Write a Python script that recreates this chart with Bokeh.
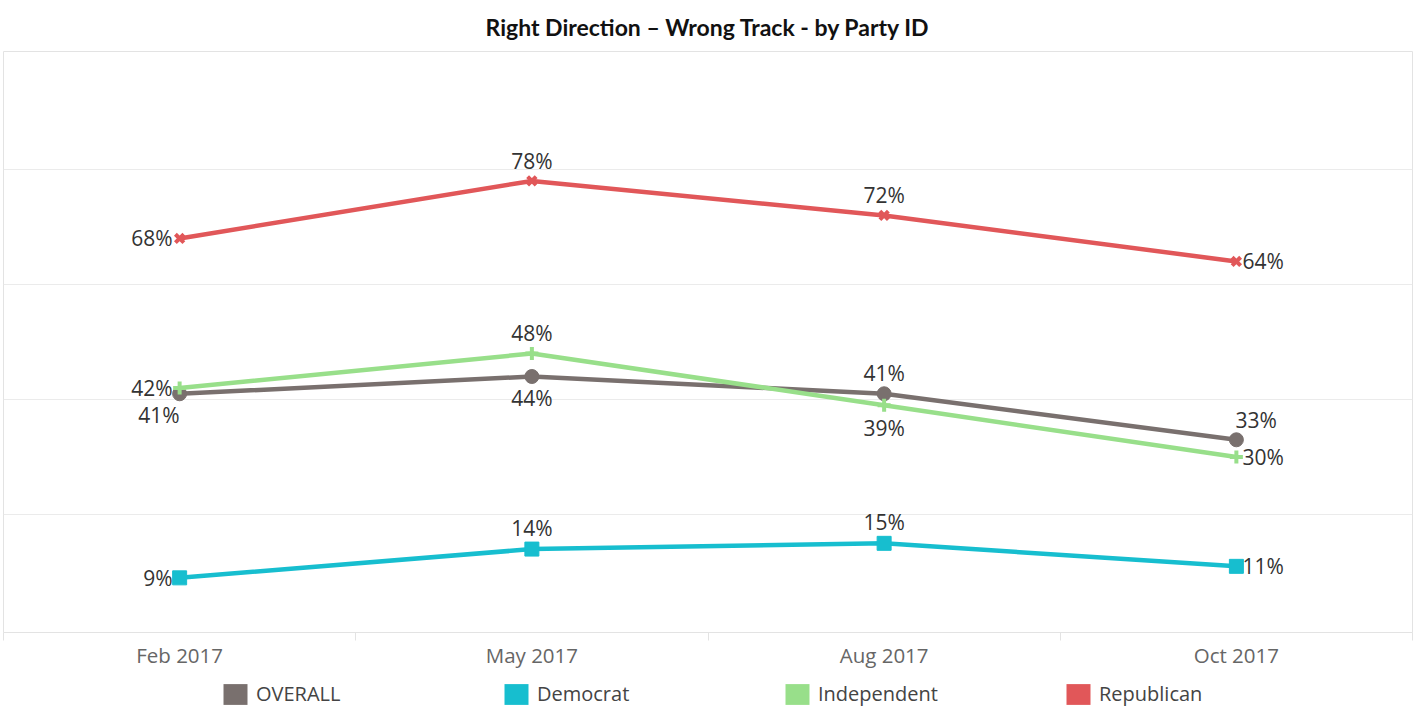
from bokeh.plotting import figure
from bokeh.layouts import column
from bokeh.models import (Range1d, FixedTicker, Legend, LegendItem, ColumnDataSource)
from bokeh.embed import file_html
from bokeh.resources import INLINE
from bokeh.core.properties import value

# ---------------- data ----------------
categories = ["Feb 2017", "May 2017", "Aug 2017", "Oct 2017"]
series_names = ["OVERALL", "Democrat", "Independent", "Republican"]
overall = [41, 44, 41, 33]
democrat = [9, 14, 15, 11]
independent = [42, 48, 39, 30]
republican = [68, 78, 72, 64]
grid_ticks = [20, 40, 60, 80]

# ---------------- styles ----------------
colors = {"OVERALL": "#79706e", "Democrat": "#17becf",
          "Independent": "#98df8a", "Republican": "#e15759"}
markers = {"OVERALL": "circle", "Democrat": "square",
           "Independent": "cross", "Republican": "x"}
marker_size = {"OVERALL": 14, "Democrat": 14, "Independent": 13, "Republican": 12}
marker_lw = {"OVERALL": 1, "Democrat": 1, "Independent": 4, "Republican": 4}
# label placement per point: (align, dx, dy) in screen pixels
label_place = {
    "OVERALL": [("right", 0, 21), ("center", 0, 21), ("center", 0, -21), ("left", -1, -20)],
    "Democrat": [("right", -7, 0), ("center", 0, -21), ("center", 0, -21), ("left", 6, 0)],
    "Independent": [("right", -7, 0), ("center", 0, -21), ("center", 0, 23), ("left", 6, 0)],
    "Republican": [("right", -7, 0), ("center", 0, -20), ("center", 0, -20), ("left", 6, 0)],
}
values = {"OVERALL": overall, "Democrat": democrat,
          "Independent": independent, "Republican": republican}

FONT = "Open Sans"
W = 1415

# each category occupies one unit band; points sit at the band centres
n = len(categories)
xpos = [i + 0.5 for i in range(n)]

p = figure(x_range=Range1d(0, n), y_range=Range1d(-0.5, 100.5),
           width=W, height=681,
           output_backend="svg", toolbar_location=None,
           y_axis_location=None,
           min_border_left=3, min_border_right=3, min_border_top=50,
           min_border_bottom=49)
p.background_fill_color = "white"
p.border_fill_color = "white"
p.outline_line_color = "#e3e3e3"
p.outline_line_width = 1

p.title.text = "Right Direction \u2013 Wrong Track - by Party ID"
p.title.align = "center"
p.title.text_font = "Lato"
p.title.text_font_style = "bold"
p.title.text_font_size = "23px"
p.title.text_color = "#111111"
p.title.standoff = 21

p.xgrid.grid_line_color = None
p.ygrid.ticker = FixedTicker(ticks=grid_ticks)
p.ygrid.grid_line_color = "#ebebeb"
p.ygrid.grid_line_width = 1

xa = p.xaxis[0]
xa.ticker = FixedTicker(ticks=xpos, minor_ticks=list(range(n + 1)))
xa.major_label_overrides = {x: c for x, c in zip(xpos, categories)}
xa.axis_line_color = None
xa.major_tick_line_color = None
xa.major_tick_in = 0
xa.major_tick_out = 3
xa.minor_tick_in = 0
xa.minor_tick_out = 8
xa.minor_tick_line_color = "#e3e3e3"
xa.major_label_text_font = FONT
xa.major_label_text_font_size = "20.5px"
xa.major_label_text_color = "#666666"
xa.major_label_standoff = 0

# separate strip below the chart that carries the legend
lp = figure(x_range=Range1d(0, 1), y_range=Range1d(0, 1), width=W, height=26,
            output_backend="svg", toolbar_location=None,
            x_axis_location=None, y_axis_location=None,
            min_border_left=3, min_border_right=3, min_border_top=0,
            min_border_bottom=0)
lp.outline_line_color = None
lp.xgrid.grid_line_color = None
lp.ygrid.grid_line_color = None
lp.background_fill_color = "white"
lp.border_fill_color = "white"

nan = float("nan")
legend_items = []
for name in series_names:
    vals = values[name]
    c = colors[name]
    p.line(xpos, vals, line_width=4.5, line_color=c)
    p.scatter(xpos, vals, marker=markers[name], size=marker_size[name],
              fill_color=c, line_color=c, line_width=marker_lw[name])
    place = label_place[name]
    src = ColumnDataSource(dict(
        x=xpos, y=vals, label=[f"{v}%" for v in vals],
        align=[a for a, _, _ in place],
        dx=[dx for _, dx, _ in place],
        dy=[dy for _, _, dy in place]))
    p.text(x="x", y="y", text="label", source=src, x_offset="dx", y_offset="dy",
           text_align="align", text_baseline="middle",
           text_font=value(FONT), text_font_size="21px", text_color="#333333")
    # legend swatch proxy (one undrawable row so the legend can draw its colour box)
    proxy = lp.quad(left=[nan], right=[nan], top=[nan], bottom=[nan],
                    fill_color=c, line_color=None)
    legend_items.append(LegendItem(label=name, renderers=[proxy]))

legend = Legend(items=legend_items, orientation="horizontal",
                location=(217, 0),
                glyph_width=30, glyph_height=26, label_standoff=6,
                label_width=245, spacing=0, padding=0, margin=0,
                label_text_font=FONT, label_text_font_size="20px",
                label_text_color="#444444",
                border_line_color=None, background_fill_alpha=0)
lp.add_layout(legend, "center")

layout = column(p, lp, spacing=0)
open("out.html", "w").write(file_html(layout, INLINE))
